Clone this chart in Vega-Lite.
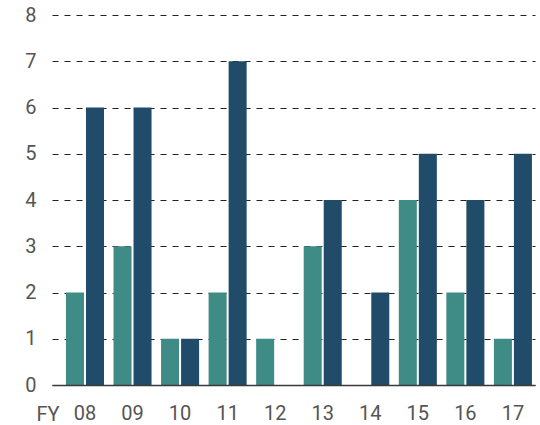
{
  "$schema": "https://vega.github.io/schema/vega-lite/v6.json",
  "width": 483,
  "height": 370,
  "autosize": "none",
  "padding": {"left": 52, "top": 15, "right": 5, "bottom": 40},
  "background": "white",
  "config": {
    "view": {"stroke": null},
    "font": "Roboto"
  },
  "data": {
    "values": [
      {"year": "08", "series": "A", "value": 2},
      {"year": "08", "series": "B", "value": 6},
      {"year": "09", "series": "A", "value": 3},
      {"year": "09", "series": "B", "value": 6},
      {"year": "10", "series": "A", "value": 1},
      {"year": "10", "series": "B", "value": 1},
      {"year": "11", "series": "A", "value": 2},
      {"year": "11", "series": "B", "value": 7},
      {"year": "12", "series": "A", "value": 1},
      {"year": "12", "series": "B", "value": 0},
      {"year": "13", "series": "A", "value": 3},
      {"year": "13", "series": "B", "value": 4},
      {"year": "14", "series": "A", "value": 0},
      {"year": "14", "series": "B", "value": 2},
      {"year": "15", "series": "A", "value": 4},
      {"year": "15", "series": "B", "value": 5},
      {"year": "16", "series": "A", "value": 2},
      {"year": "16", "series": "B", "value": 4},
      {"year": "17", "series": "A", "value": 1},
      {"year": "17", "series": "B", "value": 5}
    ]
  },
  "mark": {"type": "bar"},
  "encoding": {
    "x": {
      "field": "year",
      "type": "nominal",
      "sort": null,
      "scale": {"paddingInner": 0.2, "paddingOuter": 0.179, "align": 0.82},
      "axis": {
        "title": "FY",
        "titleX": -4.5,
        "titleY": 35,
        "titleAlign": "center",
        "titleBaseline": "alphabetic",
        "titleFontSize": 20,
        "titleFontWeight": "normal",
        "titleColor": "#555555",
        "titleFont": "Roboto",
        "labelAngle": 0,
        "labelFontSize": 20,
        "labelColor": "#555555",
        "labelFont": "Roboto",
        "labelPadding": 18,
        "ticks": false,
        "tickSize": 0,
        "domain": true,
        "domainColor": "#3a3a3a",
        "domainWidth": 1.5,
        "grid": false,
        "zindex": 1
      }
    },
    "xOffset": {
      "field": "series",
      "type": "nominal",
      "scale": {"paddingInner": 0.1, "paddingOuter": 0}
    },
    "y": {
      "field": "value",
      "type": "quantitative",
      "scale": {"domain": [0, 8], "nice": false},
      "axis": {
        "title": null,
        "values": [0, 1, 2, 3, 4, 5, 6, 7, 8],
        "labelFontSize": 20,
        "labelColor": "#555555",
        "labelFont": "Roboto",
        "labelPadding": 16,
        "ticks": false,
        "tickSize": 0,
        "domain": false,
        "grid": true,
        "gridColor": "#222222",
        "gridDash": [6, 6],
        "gridWidth": 1
      }
    },
    "color": {
      "field": "series",
      "type": "nominal",
      "scale": {"domain": ["A", "B"], "range": ["#3f8b85", "#214c69"]},
      "legend": null
    }
  }
}
